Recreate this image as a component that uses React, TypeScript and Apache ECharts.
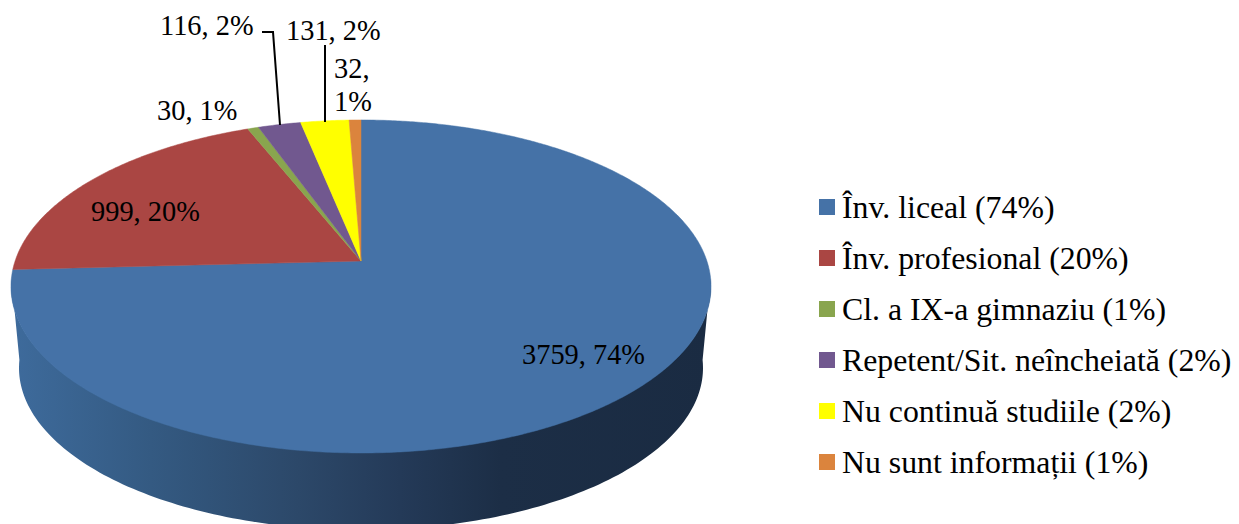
import React, { useEffect, useRef } from "react";
import * as echarts from "echarts";

const categories = [
  "Înv. liceal",
  "Înv. profesional",
  "Cl. a IX-a gimnaziu",
  "Repetent/Sit. neîncheiată",
  "Nu continuă studiile",
  "Nu sunt informații",
];
const values = [3759, 999, 30, 116, 131, 32];
const percents = [74, 20, 1, 2, 2, 1];
const colors = ["#4572A7", "#AA4643", "#89A54E", "#71588F", "#FFFF00", "#DB843D"];

const FONT = "'Liberation Serif', 'Times New Roman', serif";
const FS = 28.4;
const LEGEND_FS = 31.8;
const total = values.reduce((a, b) => a + b, 0);

// Projective view of a tilted disc: apex of the pie, and perspective factor
const AX = 361, AY = 261, A = 345.9, B = 162.6, P = -0.153;
const project = (deg: number): number[] => {
  const r = (deg * Math.PI) / 180;
  const u = Math.sin(r), v = -Math.cos(r), d = 1 + P * v;
  return [AX + (A * u) / d, AY + (B * v) / d];
};

// Rim ellipses of the wall
const TOP = { cx: 361, cy: 286, rx: 350, ry: 166 };
const BOT = { cx: 361, cy: 368, rx: 342, ry: 162 };
const rim = (e: typeof TOP, t: number): number[] => [
  e.cx + e.rx * Math.cos(t),
  e.cy + e.ry * Math.sin(t),
];
const wallPoints = (): number[][] => {
  const d = (2.8 * Math.PI) / 180, n = 160, pts: number[][] = [];
  for (let i = 0; i <= n; i++) pts.push(rim(TOP, -d + ((Math.PI + 2 * d) * i) / n));
  for (let i = n; i >= 0; i--) pts.push(rim(BOT, -d + ((Math.PI + 2 * d) * i) / n));
  return pts;
};

const slicePoints = (i: number): number[][] => {
  const before = values.slice(0, i).reduce((a, b) => a + b, 0);
  const a0 = (before / total) * 360, a1 = ((before + values[i]) / total) * 360;
  const n = Math.max(4, Math.ceil(a1 - a0) * 2);
  const pts = [[AX, AY]];
  for (let k = 0; k <= n; k++) pts.push(project(a0 + ((a1 - a0) * k) / n));
  return pts;
};

const labelText = (i: number) => `${values[i]}, ${percents[i]}%`;
const labelStyle = (text: string, x: number, y: number) => ({
  type: "text",
  x,
  y,
  silent: true,
  style: {
    text,
    x: 0,
    y: 0,
    fill: "#000",
    font: `${FS}px ${FONT}`,
    lineHeight: 33,
    textAlign: "left",
    textVerticalAlign: "middle",
    verticalAlign: "middle",
  },
});
const leader = (points: number[][]) => ({
  type: "polyline",
  silent: true,
  shape: { points },
  style: { stroke: "#000", lineWidth: 2, fill: "none" },
});

const decorations = (i: number): any[] => {
  switch (i) {
    case 0:
      return [labelStyle(labelText(0), 522, 354)];
    case 1:
      return [labelStyle(labelText(1), 91, 211)];
    case 2:
      return [labelStyle(labelText(2), 157, 110)];
    case 3:
      return [
        labelStyle(labelText(3), 160, 25),
        leader([[262, 32], [273, 32], [280, 125]]),
      ];
    case 4:
      return [labelStyle(labelText(4), 286, 30), leader([[325, 45], [325, 122]])];
    default:
      return [labelStyle(`${values[5]},\n${percents[5]}%`, 334, 85)];
  }
};

const names = categories.map((c, i) => `${c} (${percents[i]}%)`);

export default function App() {
  const ref = useRef<HTMLDivElement>(null);
  useEffect(() => {
    document.body.style.margin = "0";
    document.body.style.background = "#fff";
    const chart = echarts.init(ref.current!, undefined, { renderer: "svg" });
    chart.setOption({
      animation: false,
      backgroundColor: "#fff",
      legend: {
        data: names,
        orient: "vertical",
        left: 819,
        top: 189,
        padding: 0,
        icon: "rect",
        itemWidth: 16,
        itemHeight: 16,
        itemGap: 15,
        selectedMode: false,
        textStyle: {
          fontFamily: FONT,
          fontSize: LEGEND_FS,
          color: "#000",
          lineHeight: 32,
          padding: [0, 0, 4, 2],
        },
      },
      series: names.map((name, i) => ({
        type: "custom",
        name,
        coordinateSystem: "none",
        silent: true,
        itemStyle: { color: colors[i] },
        data: [values[i]],
        renderItem: () => {
          const children: any[] = [];
          if (i === 0) {
            children.push({
              type: "polygon",
              shape: { points: wallPoints() },
              style: {
                fill: new echarts.graphic.LinearGradient(0, 0, 1, 0, [
                  { offset: 0, color: "#3E6B9C" },
                  { offset: 0.2, color: "#345A82" },
                  { offset: 0.41, color: "#2C4869" },
                  { offset: 0.556, color: "#243A58" },
                  { offset: 0.7, color: "#1C2E46" },
                  { offset: 1, color: "#1A2B42" },
                ]),
              },
            });
          }
          children.push({
            type: "polygon",
            shape: { points: slicePoints(i) },
            style: { fill: colors[i], stroke: colors[i], lineWidth: 0.5 },
          });
          children.push(...decorations(i));
          return { type: "group", children };
        },
      })),
    });
    return () => chart.dispose();
  }, []);
  return <div ref={ref} style={{ width: 1239, height: 524, position: "absolute", left: 0, top: 0 }} />;
}
